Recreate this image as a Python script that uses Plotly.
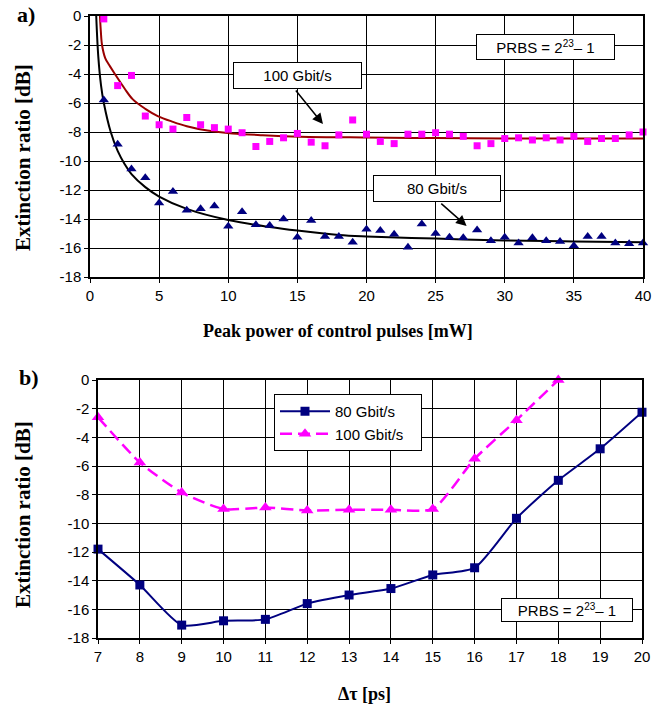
import plotly.graph_objects as go

W, H = 666, 707

# ---------------- Panel a data ----------------
power_mw = list(range(1, 41))
er_100g_a = [-0.2, -4.8, -4.1, -6.9, -7.5, -7.8, -7.0, -7.5, -7.7, -7.8,
             -8.05, -9.0, -8.65, -8.4, -8.1, -8.7, -8.95, -8.2, -7.17, -8.15,
             -8.65, -8.8, -8.15, -8.15, -8.05, -8.15, -8.3, -8.95, -8.8, -8.45,
             -8.4, -8.55, -8.4, -8.55, -8.3, -8.65, -8.45, -8.45, -8.2, -8.0]
er_80g_a = [-5.8, -8.85, -10.55, -11.15, -12.9, -12.1, -13.4, -13.3, -13.1, -14.5,
            -13.5, -14.4, -14.45, -14.0, -15.25, -14.1, -15.2, -15.2, -15.6, -14.7,
            -14.8, -15.05, -15.95, -14.35, -15.0, -15.25, -15.3, -14.75, -15.5, -15.25,
            -15.65, -15.3, -15.5, -15.55, -15.85, -15.2, -15.2, -15.65, -15.7, -15.65]

# trend lines
fit_100g_x = [0.72, 0.78, 0.87, 1.1, 1.4, 1.8, 2.5, 3.1, 4.0, 4.9, 6.0, 7.0, 8.5, 10.3, 12.5, 15.2, 20, 25, 30, 35, 40]
fit_100g_y = [0.0, -1.0, -2.0, -2.9, -3.4, -4.0, -5.0, -5.75, -6.4, -6.9, -7.3, -7.6, -7.9, -8.1, -8.22, -8.32, -8.38, -8.42, -8.44, -8.45, -8.45]
fit_80g_x = [0.45, 0.6, 0.8, 1.0, 1.5, 2.0, 2.5, 3.0, 4.0, 5.0, 7.0, 10.0, 13.0, 15.0, 18.0, 20, 25, 30, 35, 40]
fit_80g_y = [0.0, -2.8, -4.8, -6.0, -8.0, -9.3, -10.2, -10.9, -11.8, -12.45, -13.3, -14.07, -14.55, -14.8, -15.1, -15.2, -15.35, -15.48, -15.55, -15.6]

# ---------------- Panel b data ----------------
delta_tau = [7, 8, 9, 10, 11, 12, 13, 14, 15, 16, 17, 18, 19, 20]
er_80g_b = [-11.8, -14.3, -17.1, -16.8, -16.7, -15.6, -15.0, -14.55, -13.6, -13.1, -9.65, -7.0, -4.8, -2.25]
tau_100g = [7, 8, 9, 10, 11, 12, 13, 14, 15, 16, 17, 18]
er_100g_b = [-2.6, -5.75, -7.85, -9.0, -8.9, -9.1, -9.05, -9.05, -9.0, -5.5, -2.8, 0.0]

x_ticks_a = list(range(0, 41, 5))
x_ticks_b = list(range(7, 21))
y_ticks = list(range(0, -19, -2))
y_tick_text = [str(v) for v in y_ticks]  # plain hyphen minus like the original

MAG = "#FF00FF"
NAVY = "#000080"
BROWN = "#990000"

def px(x):
    return x / W

def py(y):
    return 1 - y / H

fig = go.Figure()

# panel a
fig.add_trace(go.Scatter(x=fit_100g_x, y=fit_100g_y, mode="lines", line=dict(color=BROWN, width=2, shape="spline", smoothing=1.0),
                         xaxis="x", yaxis="y", showlegend=False, hoverinfo="skip"))
fig.add_trace(go.Scatter(x=fit_80g_x, y=fit_80g_y, mode="lines", line=dict(color="black", width=2, shape="spline", smoothing=1.0),
                         xaxis="x", yaxis="y", showlegend=False, hoverinfo="skip"))
fig.add_trace(go.Scatter(x=power_mw, y=er_100g_a, mode="markers", marker=dict(symbol="square", size=7, color=MAG),
                         xaxis="x", yaxis="y", showlegend=False, cliponaxis=False))
fig.add_trace(go.Scatter(x=power_mw, y=er_80g_a, mode="markers", marker=dict(symbol="triangle-up", size=9, color=NAVY),
                         xaxis="x", yaxis="y", showlegend=False, cliponaxis=False))

# panel b
fig.add_trace(go.Scatter(x=delta_tau, y=er_80g_b, mode="lines+markers", name="80 Gbit/s",
                         line=dict(color=NAVY, width=2, shape="spline", smoothing=0.6),
                         marker=dict(symbol="square", size=9, color=NAVY),
                         xaxis="x2", yaxis="y2", cliponaxis=False))
fig.add_trace(go.Scatter(x=tau_100g, y=er_100g_b, mode="lines+markers", name="100 Gbit/s   ",
                         line=dict(color=MAG, width=2.5, dash="12px,6px", shape="spline", smoothing=0.6),
                         marker=dict(symbol="triangle-up", size=11, color=MAG),
                         xaxis="x2", yaxis="y2", cliponaxis=False))

tickfont = dict(family="Liberation Sans, Arial", size=15, color="black")
common_axis = dict(showgrid=True, gridcolor="black", gridwidth=1, showline=True, linecolor="black", linewidth=1.5,
                   mirror=True, ticks="outside", ticklen=4, tickcolor="black", tickfont=tickfont,
                   zeroline=False, automargin=False, fixedrange=True)

fig.update_layout(
    width=W, height=H,
    margin=dict(l=0, r=0, t=0, b=0),
    paper_bgcolor="white", plot_bgcolor="white",
    xaxis=dict(domain=[px(90), px(643)], range=[0, 40], tickvals=x_ticks_a, anchor="y", **common_axis),
    yaxis=dict(domain=[py(277), py(16)], range=[-18, 0], tickvals=y_ticks, ticktext=y_tick_text, anchor="x", **common_axis),
    xaxis2=dict(domain=[px(98), px(642)], range=[7, 20], tickvals=x_ticks_b, anchor="y2", **common_axis),
    yaxis2=dict(domain=[py(638), py(380)], range=[-18, 0], tickvals=y_ticks, ticktext=y_tick_text, anchor="x2", **common_axis),
    legend=dict(x=px(274), y=py(394), xanchor="left", yanchor="top", bgcolor="white", bordercolor="black", borderwidth=1,
                font=dict(family="Liberation Sans, Arial", size=15, color="black"), tracegroupgap=2, itemwidth=50),
    showlegend=True,
)

serif_bold = dict(family="Liberation Serif, Times New Roman", size=18, color="black")
serif_bold_y = dict(family="Liberation Serif, Times New Roman", size=21, color="black")
ann = []

def add(**kw):
    kw.setdefault("xanchor", "center")
    kw.setdefault("yanchor", "middle")
    kw.setdefault("showarrow", False)
    ann.append(kw)

# axis titles
add(x=px(338), y=py(331), xref="paper", yref="paper", text="<b>Peak power of control pulses [mW]</b>", font=serif_bold)
add(x=px(364), y=py(694), xref="paper", yref="paper", text="<b>Δτ [ps]</b>", font=serif_bold)
add(x=px(23), y=py(158), xref="paper", yref="paper", text="<b>Extinction ratio [dB]</b>", textangle=-90, font=serif_bold_y)
add(x=px(23), y=py(515), xref="paper", yref="paper", text="<b>Extinction ratio [dB]</b>", textangle=-90, font=serif_bold_y)
# panel labels
add(x=px(26), y=py(15), xref="paper", yref="paper", text="<b>a)</b>",
    font=dict(family="Liberation Serif, Times New Roman", size=22, color="black"))
add(x=px(29), y=py(377), xref="paper", yref="paper", text="<b>b)</b>",
    font=dict(family="Liberation Serif, Times New Roman", size=22, color="black"))

boxfont = dict(family="Liberation Sans, Arial", size=15, color="black")
prbs_text = "PRBS = 2<sup><span style='font-size:10px'>23</span></sup>– 1"
# arrows panel a
ann.append(dict(x=16.85, y=-7.45, ax=14.8, ay=-5.03, xref="x", yref="y", axref="x", ayref="y", text="",
                showarrow=True, arrowhead=2, arrowsize=1.4, arrowwidth=1.5, arrowcolor="black"))
ann.append(dict(x=27.24, y=-14.48, ax=25.3, ay=-12.85, xref="x", yref="y", axref="x", ayref="y", text="",
                showarrow=True, arrowhead=2, arrowsize=1.4, arrowwidth=1.5, arrowcolor="black"))
# boxes
add(x=px(297.5), y=py(75.5), xref="paper", yref="paper", text="100 Gbit/s",
    width=121, height=19, borderpad=3, bordercolor="black", borderwidth=1, bgcolor="white", font=boxfont)
add(x=px(436.7), y=py(188.7), xref="paper", yref="paper", text="80 Gbit/s",
    width=120, height=19, borderpad=3, bordercolor="black", borderwidth=1, bgcolor="white", font=boxfont)
add(x=px(545), y=py(47), xref="paper", yref="paper", text=prbs_text,
    width=131, height=18, borderpad=3, bordercolor="black", borderwidth=1, bgcolor="white", font=boxfont)
add(x=px(566.5), y=py(610), xref="paper", yref="paper", text=prbs_text,
    width=124, height=16, borderpad=3, bordercolor="black", borderwidth=1, bgcolor="white", font=boxfont)

fig.update_layout(annotations=ann)

fig.write_html("out.html", config={"displayModeBar": False},
               post_script="document.body.style.margin='0px';")
